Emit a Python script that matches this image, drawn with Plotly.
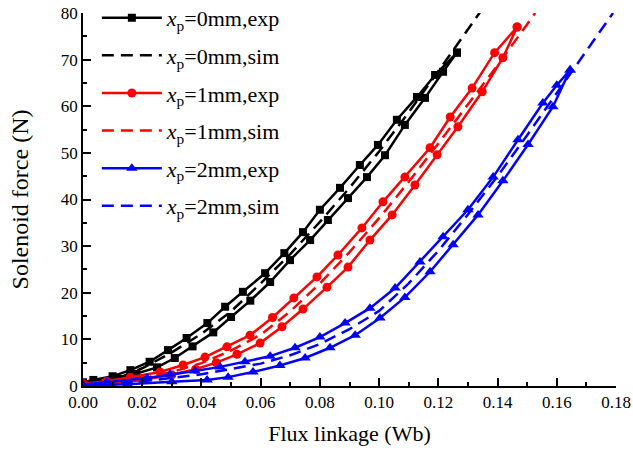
import plotly.graph_objects as go

# ---- data (Wb, N) ----
b_up_x = [0.000, 0.0035, 0.010, 0.016, 0.0225, 0.0287, 0.035, 0.042, 0.048, 0.054, 0.0615, 0.068, 0.0743, 0.080, 0.0868, 0.0935, 0.0996, 0.106, 0.1128, 0.1189, 0.1263]
b_up_f = [0.8, 1.3, 2.1, 3.4, 5.2, 7.7, 10.3, 13.5, 17.0, 20.2, 24.2, 28.5, 33.0, 37.8, 42.5, 47.4, 51.7, 57.1, 62.0, 66.7, 71.5]
b_lo_x = [0.000, 0.005, 0.012, 0.018, 0.025, 0.031, 0.037, 0.044, 0.050, 0.0565, 0.0632, 0.0699, 0.0767, 0.0827, 0.0895, 0.0959, 0.102, 0.1087, 0.1155, 0.1216, 0.1263]
b_lo_f = [0.5, 0.8, 1.5, 2.6, 4.0, 6.0, 8.5, 11.5, 14.8, 18.3, 22.3, 27.0, 31.3, 35.6, 40.3, 44.8, 49.5, 56.0, 61.8, 67.4, 71.5]
b_sim_x = [0, 0.01, 0.02, 0.03, 0.04, 0.05, 0.06, 0.07, 0.08, 0.09, 0.10, 0.11, 0.12, 0.13, 0.135]
b_sim_f = [0, 1.2, 3.8, 7.2, 11.2, 16.0, 22.0, 28.3, 35.2, 42.5, 50.3, 58.7, 67.5, 76.5, 81]

r_up_x = [0.000, 0.008, 0.016, 0.026, 0.0338, 0.0412, 0.0486, 0.0564, 0.0640, 0.0712, 0.079, 0.0861, 0.0942, 0.1013, 0.1087, 0.1172, 0.124, 0.1314, 0.139, 0.1466]
r_up_f = [0.5, 1.0, 1.9, 3.0, 4.5, 6.2, 8.4, 10.9, 14.7, 18.9, 23.4, 28.1, 33.9, 39.5, 44.8, 51.1, 57.7, 63.9, 71.5, 77.0]
r_lo_x = [0.000, 0.010, 0.020, 0.030, 0.038, 0.045, 0.052, 0.0598, 0.0672, 0.0743, 0.0824, 0.0895, 0.0969, 0.1044, 0.1121, 0.1196, 0.1266, 0.1348, 0.1418, 0.1466]
r_lo_f = [0.3, 0.6, 1.3, 2.4, 3.6, 5.0, 6.8, 9.2, 12.7, 16.5, 21.2, 25.5, 31.3, 36.7, 43.1, 49.6, 55.6, 63.1, 70.4, 77.0]
r_sim_x = [0, 0.01, 0.02, 0.03, 0.04, 0.05, 0.06, 0.07, 0.08, 0.09, 0.10, 0.11, 0.12, 0.13, 0.14, 0.15, 0.1527]
r_sim_f = [0, 0.6, 1.6, 3.0, 4.9, 7.6, 11.0, 16.0, 22.0, 28.7, 36.0, 43.8, 52.0, 60.3, 68.8, 77.6, 80.0]

u_up_x = [0.000, 0.008, 0.0216, 0.0294, 0.0378, 0.0463, 0.0547, 0.0632, 0.0716, 0.080, 0.0885, 0.0969, 0.1054, 0.1138, 0.1216, 0.130, 0.1385, 0.1469, 0.1553, 0.1600, 0.1645]
u_up_f = [0.3, 0.8, 1.7, 2.5, 3.2, 4.1, 5.2, 6.4, 8.2, 10.5, 13.5, 16.7, 21.0, 26.6, 32.0, 37.8, 44.8, 52.8, 60.7, 64.5, 67.8]
u_lo_x = [0.000, 0.015, 0.030, 0.0419, 0.049, 0.0574, 0.0665, 0.075, 0.0834, 0.0919, 0.1003, 0.1087, 0.1172, 0.125, 0.1334, 0.1418, 0.1503, 0.1587, 0.1645]
u_lo_f = [0.1, 0.4, 0.9, 1.3, 1.9, 3.0, 4.4, 6.0, 8.2, 10.9, 14.6, 19.0, 24.5, 30.3, 36.7, 44.0, 51.8, 59.9, 67.8]
u_sim_x = [0, 0.02, 0.04, 0.06, 0.07, 0.08, 0.09, 0.10, 0.11, 0.12, 0.13, 0.14, 0.15, 0.16, 0.17, 0.179]
u_sim_f = [0, 1.0, 2.5, 4.8, 6.6, 9.0, 12.2, 16.1, 22.0, 29.0, 36.8, 45.0, 53.8, 62.8, 71.8, 80.0]

labels = ["0mm", "1mm", "2mm"]
colors = ["black", "red", "blue"]
symbols = ["square", "circle", "triangle-up"]
msizes = [8, 9, 10]

exp_sets = [(b_lo_x, b_lo_f, b_up_x, b_up_f), (r_lo_x, r_lo_f, r_up_x, r_up_f), (u_lo_x, u_lo_f, u_up_x, u_up_f)]
sim_sets = [(b_sim_x, b_sim_f), (r_sim_x, r_sim_f), (u_sim_x, u_sim_f)]

fig = go.Figure()
for i in range(3):
    lx, lf, ux, uf = exp_sets[i]
    xs = list(lx) + list(reversed(ux))
    fs = list(lf) + list(reversed(uf))
    fig.add_trace(go.Scatter(
        x=xs, y=fs, mode="lines+markers",
        name="<i>x</i><sub>p</sub>=" + labels[i] + ",exp",
        line=dict(color=colors[i], width=2.5),
        marker=dict(symbol=symbols[i], size=msizes[i], color=colors[i]),
        legendgroup="e%d" % i))
    sx, sf = sim_sets[i]
    fig.add_trace(go.Scatter(
        x=sx, y=sf, mode="lines",
        name="<i>x</i><sub>p</sub>=" + labels[i] + ",sim",
        line=dict(color=colors[i], width=2.5, dash="12px,7px"),
        legendgroup="s%d" % i))

font_family = "'Liberation Serif', 'Times New Roman', 'DejaVu Serif', serif"
fig.update_layout(
    width=633, height=453,
    margin=dict(l=83, r=17, t=13, b=67, autoexpand=False),
    plot_bgcolor="white", paper_bgcolor="white",
    font=dict(family=font_family, color="black", size=17),
    showlegend=True,
    legend=dict(x=0.026, y=1.043, xanchor="left", yanchor="top",
                bgcolor="rgba(0,0,0,0)", font=dict(size=22, family=font_family),
                tracegroupgap=6, itemwidth=60, maxheight=1000),
    xaxis=dict(range=[0, 0.18], dtick=0.02, tickformat=".2f",
               showline=True, linecolor="black", linewidth=1.5,
               ticks="inside", ticklen=8, tickwidth=1.5, tickcolor="black",
               minor=dict(ticks="inside", ticklen=4, tickwidth=1.5, tickcolor="black", dtick=0.01),
               showgrid=False, zeroline=False, mirror=False,
               title=dict(text="Flux linkage (Wb)", font=dict(size=22), standoff=14)),
    yaxis=dict(range=[0, 80], dtick=10,
               showline=True, linecolor="black", linewidth=1.5,
               ticks="inside", ticklen=8, tickwidth=1.5, tickcolor="black",
               minor=dict(ticks="inside", ticklen=4, tickwidth=1.5, tickcolor="black", dtick=5),
               showgrid=False, zeroline=False, mirror=False,
               title=dict(text="Solenoid force (N)", font=dict(size=24), standoff=25)),
)

fig.write_html("out.html")
